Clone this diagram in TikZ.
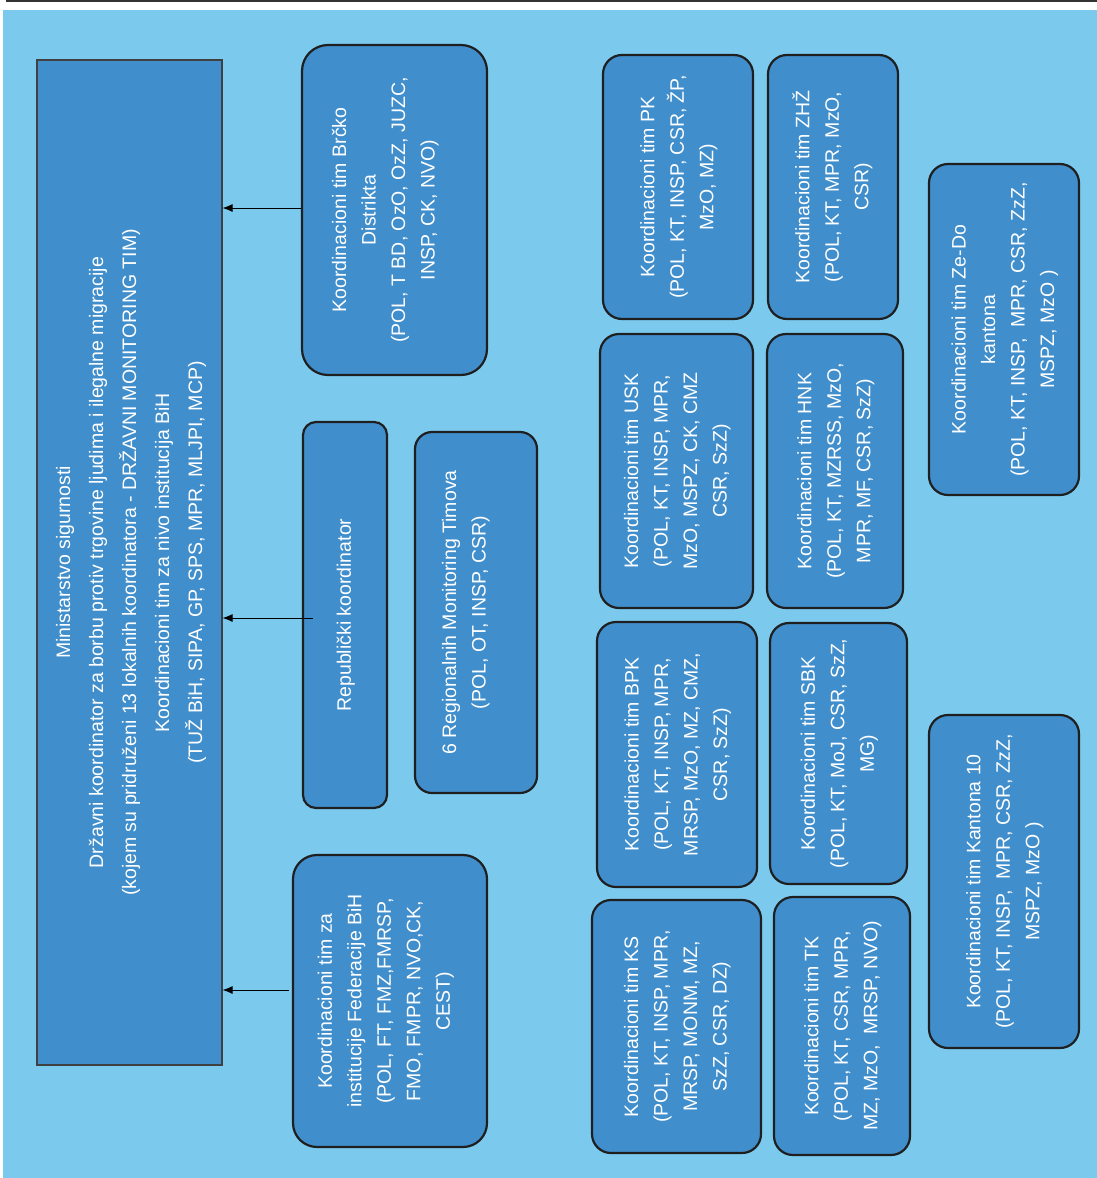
\documentclass[tikz,border=0pt]{standalone}
\usepackage{fontspec}
\setmainfont{Liberation Sans}
\usepackage{graphicx}
\usetikzlibrary{arrows.meta}
\definecolor{bgblue}{RGB}{123,202,238}
\definecolor{boxblue}{RGB}{64,142,204}
\newcommand{\vtxt}[1]{\rotatebox{90}{\begin{tabular}{@{}c@{}}#1\end{tabular}}}
\tikzset{
  tb/.style={draw=black!88, line width=2.2pt, fill=boxblue, rounded corners=#1pt,
    inner sep=0pt, text=white, font=\fontsize{19.5}{29.5}\selectfont},
  mainbox/.style={draw=black!75, line width=1.2pt, fill=boxblue, inner sep=0pt,
    text=white, font=\fontsize{19.5}{33}\selectfont},
  arr/.style={draw=black, line width=0.9pt, -{Latex[length=10pt,width=8pt]}}
}
\begin{document}
\begin{tikzpicture}[x=1pt,y=-1pt]
\useasboundingbox (0,0) rectangle (1097,1178);
\fill[bgblue] (3,10) rectangle (1097,1178);
\draw[black!80, line width=1.5pt] (7,0) -- (7,1.2) -- (1097,1.2);

\node[mainbox, minimum width=185pt, minimum height=1005pt] (main) at (129.5,562.5)
 {\vtxt{Ministarstvo sigurnosti\\
 Državni koordinator za borbu protiv trgovine ljudima i ilegalne migracije\\
 (kojem su pridruženi 13 lokalnih koordinatora - DRŽAVNI MONITORING TIM)\\
 Koordinacioni tim za nivo institucija BiH\\
 (TUŽ BiH, SIPA, GP, SPS, MPR, MLJPI, MCP)}};

\node[tb=26, minimum width=185pt, minimum height=330pt] (brcko) at (394.5,210)
 {\vtxt{Koordinacioni tim Brčko\\ Distrikta\\ (POL, T BD, OzO, OzZ, JUZC,\\ INSP, CK, NVO)}\kern20pt};
\node[tb=13, minimum width=84pt, minimum height=386pt] (rep) at (345,615)
 {\vtxt{Republički koordinator}};
\node[tb=17, minimum width=122pt, minimum height=361pt] (reg) at (476,612.5)
 {\vtxt{6 Regionalnih Monitoring Timova\\ (POL, OT, INSP, CSR)}\kern22pt};
\node[tb=24, minimum width=194pt, minimum height=292pt] (fed) at (390,1001)
 {\vtxt{Koordinacioni tim za\\ institucije Federacije BiH\\ (POL, FT, FMZ,FMRSP,\\ FMO, FMPR, NVO,CK,\\ CEST)}\kern10pt};

\node[tb=19, minimum width=150pt, minimum height=264pt] (pk) at (678,187)
 {\vtxt{Koordinacioni tim PK\\ (POL, KT, INSP, CSR, ŽP,\\ MzO, MZ)}};
\node[tb=19, minimum width=130pt, minimum height=264pt] (zhz) at (833,187)
 {\vtxt{Koordinacioni tim ZHŽ\\ (POL, KT, MPR, MzO,\\ CSR)}};
\node[tb=19, minimum width=153pt, minimum height=274pt] (usk) at (676.5,471)
 {\vtxt{Koordinacioni tim USK\\ (POL, KT, INSP, MPR,\\ MzO, MSPZ, CK, CMZ\\ CSR, SzZ)}};
\node[tb=19, minimum width=136pt, minimum height=274pt] (hnk) at (835,471)
 {\vtxt{Koordinacioni tim HNK\\ (POL, KT, MZRSS, MzO,\\ MPR, MF, CSR, SzZ)}};
\node[tb=19, minimum width=160pt, minimum height=265pt] (bpk) at (677,754.5)
 {\vtxt{Koordinacioni tim BPK\\ (POL, KT, INSP, MPR,\\ MRSP, MzO, MZ, CMZ,\\ CSR, SzZ)}};
\node[tb=19, minimum width=137pt, minimum height=261pt] (sbk) at (838.5,753.5)
 {\vtxt{Koordinacioni tim SBK\\ (POL, KT, MoJ, CSR, SzZ,\\ MG)}};
\node[tb=19, minimum width=169pt, minimum height=253pt] (ks) at (676.5,1026.5)
 {\vtxt{Koordinacioni tim KS\\ (POL, KT, INSP, MPR,\\ MRSP, MONM, MZ,\\ SzZ, CSR, DZ)}};
\node[tb=19, minimum width=136pt, minimum height=258pt] (tk) at (842,1026)
 {\vtxt{Koordinacioni tim TK\\ (POL, KT, CSR, MPR,\\ MZ, MzO,\ \ MRSP, NVO)}};
\node[tb=19, minimum width=150pt, minimum height=331pt] (zedo) at (1004,329.5)
 {\vtxt{Koordinacioni tim Ze-Do\\ kantona\\ (POL, KT, INSP,\ \ MPR, CSR, ZzZ,\\ MSPZ, MzO )}};
\node[tb=19, minimum width=150pt, minimum height=333pt] (k10) at (1004,881.5)
 {\vtxt{Koordinacioni tim Kantona 10\\ (POL, KT, INSP,\ \ MPR, CSR, ZzZ,\\ MSPZ, MzO )}};

\draw[arr] ([yshift=2pt]brcko.west) -- ([yshift=2pt]brcko.west -| main.east);
\draw[arr] ([xshift=11pt,yshift=-3pt]rep.west) -- ([yshift=-3pt]rep.west -| main.east);
\draw[arr] ([xshift=-3pt,yshift=11pt]fed.west) -- ([yshift=11pt]fed.west -| main.east);
\end{tikzpicture}
\end{document}
